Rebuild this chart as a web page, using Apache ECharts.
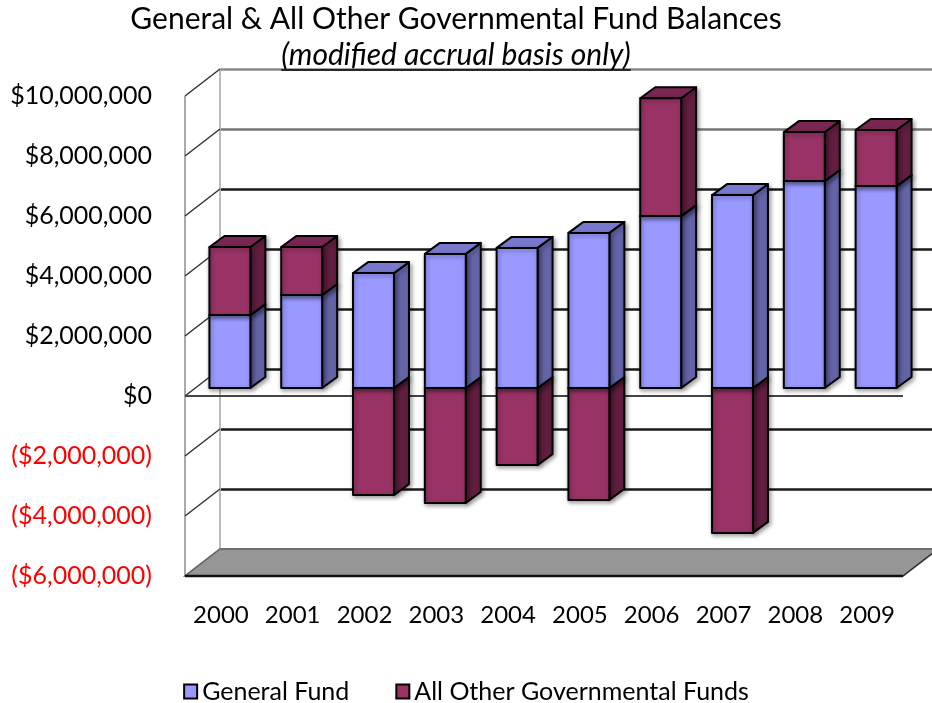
<!DOCTYPE html>
<html><head><meta charset="utf-8">
<script src="https://cdn.jsdelivr.net/npm/echarts/dist/echarts.min.js"></script>
<style>html,body{margin:0;padding:0;background:#fff}#c{width:932px;height:703px}</style>
</head><body><div id="c"></div>
<script>
const years = ['2000','2001','2002','2003','2004','2005','2006','2007','2008','2009'];
const generalFund = [2430000, 3100000, 3830000, 4470000, 4670000, 5170000, 5730000, 6430000, 6900000, 6730000];
const otherFunds  = [2270000, 1600000, -3570000, -3830000, -2570000, -3730000, 3930000, -4830000, 1630000, 1870000];
const yMin = -6000000, yMax = 10000000, yStep = 2000000;
const titleText = 'General & All Other Governmental Fund Balances';
const subtitleText = '(modified accrual basis only)';

const FONT = 'Lato, "Liberation Sans", sans-serif';
const FRONT = {left:185, top:96, width:718, height:480};
const DEPTH = {dx:35, dy:27};
const BACK = {left:FRONT.left+DEPTH.dx, top:FRONT.top-DEPTH.dy, width:718, height:480};
const BARS = {left:FRONT.left+9, top:FRONT.top-8, width:718, height:480};
const TITLE_CX = 456;

const BLUE = {front:'#9999FF', side:'#6464A8', top:'#7878CC'};
const RED  = {front:'#993366', side:'#621E40', top:'#7A2652'};

const blueRows = years.map((y,i)=>[i, 0, generalFund[i]]);
const redNegRows = [], redPosRows = [];
years.forEach((y,i)=>{
  if (otherFunds[i] < 0) redNegRows.push([i, 0, otherFunds[i]]);
  else redPosRows.push([i, generalFund[i], generalFund[i]+otherFunds[i]]);
});

function fmtMoney(v){
  const s = Math.abs(v).toString().replace(/\B(?=(\d{3})+(?!\d))/g, ',');
  return v < 0 ? '($' + s + ')' : '$' + s;
}

function makeRender(c){
  return function(params, api){
    const i = api.value(0), b = api.value(1), t = api.value(2);
    const p0 = api.coord([i, b]), p1 = api.coord([i, t]);
    const bw = api.size([1, 0])[0] * 0.57;
    const xl = p0[0] - bw/2, xr = p0[0] + bw/2;
    const yTop = Math.min(p0[1], p1[1]), yBot = Math.max(p0[1], p1[1]);
    const dx = 15, dy = 11;
    const ls = {stroke:'#000', lineWidth:2, lineJoin:'round'};
    return {type:'group', children:[
      {type:'polygon', shape:{points:[[xr,yBot],[xr,yTop],[xr+dx,yTop-dy],[xr+dx,yBot-dy]]},
        style:Object.assign({fill:c.side, shadowBlur:4, shadowColor:'rgba(0,0,0,0.35)', shadowOffsetX:2, shadowOffsetY:2}, ls)},
      {type:'polygon', shape:{points:[[xl,yTop],[xr,yTop],[xr+dx,yTop-dy],[xl+dx,yTop-dy]]},
        style:Object.assign({fill:c.top}, ls)},
      {type:'rect', shape:{x:xl, y:yTop, width:bw, height:yBot-yTop},
        style:Object.assign({fill:c.front, shadowBlur:4, shadowColor:'rgba(0,0,0,0.35)', shadowOffsetX:1, shadowOffsetY:2}, ls)}
    ]};
  };
}

const cv = document.createElement('canvas').getContext('2d');
cv.font = '30px ' + FONT;
const titleW = cv.measureText(titleText).width;
cv.font = 'italic 30px ' + FONT;
const subW = cv.measureText(subtitleText).width;

const chart = echarts.init(document.getElementById('c'), null, {renderer:'canvas'});
const valAxisBase = {type:'value', min:yMin, max:yMax, interval:yStep};

chart.setOption({
  animation:false,
  backgroundColor:'#fff',
  title:[
    {text:titleText, left:TITLE_CX - titleW/2, top:4, padding:0,
     textStyle:{fontFamily:FONT, fontSize:30, fontWeight:'normal', color:'#000'}},
    {text:subtitleText, left:TITLE_CX - subW/2, top:40, padding:0,
     textStyle:{fontFamily:FONT, fontSize:30, fontWeight:'normal', fontStyle:'italic', color:'#000'}}
  ],
  legend:{
    top:674, left:'center', itemWidth:13, itemHeight:14, itemGap:46, icon:'rect',
    textStyle:{fontFamily:FONT, fontSize:25, color:'#000'},
    itemStyle:{borderColor:'#000', borderWidth:2},
    data:['General Fund','All Other Governmental Funds']
  },
  grid:[
    Object.assign({containLabel:false}, BACK),
    Object.assign({containLabel:false}, FRONT),
    Object.assign({containLabel:false}, BARS)
  ],
  xAxis:[
    {type:'category', gridIndex:0, data:years, show:false},
    {type:'category', gridIndex:1, data:years, position:'bottom',
     axisLine:{show:false, onZero:false}, axisTick:{show:false}, splitLine:{show:false},
     axisLabel:{interval:0, margin:27, fontFamily:FONT, fontSize:24, color:'#000'}},
    {type:'category', gridIndex:2, data:years, show:false}
  ],
  yAxis:[
    Object.assign({gridIndex:0, axisLabel:{show:false}, axisTick:{show:false},
      axisLine:{show:true, lineStyle:{color:'#bbb', width:2}},
      splitLine:{show:true, lineStyle:{width:2.5,
        color:['#666','#1a1a1a','#1a1a1a','#1a1a1a','#1a1a1a','#1a1a1a','#1a1a1a','#777','#888']}}}, valAxisBase),
    Object.assign({gridIndex:1, axisTick:{show:false}, axisLine:{show:false}, splitLine:{show:false},
      axisLabel:{margin:33, fontFamily:FONT, fontSize:25,
        color:function(v){ return Number(v) < 0 ? '#FF0000' : '#000'; },
        formatter:fmtMoney}}, valAxisBase),
    Object.assign({gridIndex:2, show:false, splitLine:{show:false}}, valAxisBase)
  ],
  series:[
    {type:'custom', name:'All Other Governmental Funds', xAxisIndex:2, yAxisIndex:2, z:3,
     itemStyle:{color:RED.front}, encode:{x:0, y:[1,2]}, data:redNegRows, renderItem:makeRender(RED)},
    {type:'custom', name:'General Fund', xAxisIndex:2, yAxisIndex:2, z:3,
     itemStyle:{color:BLUE.front}, encode:{x:0, y:[1,2]}, data:blueRows, renderItem:makeRender(BLUE)},
    {type:'custom', name:'All Other Governmental Funds', xAxisIndex:2, yAxisIndex:2, z:3,
     itemStyle:{color:RED.front}, encode:{x:0, y:[1,2]}, data:redPosRows, renderItem:makeRender(RED)}
  ]
});

// Decorations (walls, floor, zero line, subtitle underline) positioned via axis scales
const yF = v => chart.convertToPixel({yAxisIndex:1}, v);
const yB = v => chart.convertToPixel({yAxisIndex:0}, v);
const fl = FRONT.left, fr = FRONT.left + FRONT.width;
const bl = BACK.left, br = BACK.left + BACK.width;
const g = [];
g.push({type:'polygon', z:5, shape:{points:[[fl,yF(yMin)],[fr,yF(yMin)],[br,yB(yMin)],[bl,yB(yMin)]]},
  style:{fill:'#969696', stroke:'#666', lineWidth:1.5}});
g.push({type:'line', z:6, shape:{x1:fl, y1:yF(yMin), x2:fr, y2:yF(yMin)}, style:{stroke:'#111', lineWidth:2.5}});
g.push({type:'line', z:6, shape:{x1:fr, y1:yF(yMin), x2:br, y2:yB(yMin)}, style:{stroke:'#333', lineWidth:1.5}});
g.push({type:'line', z:1, shape:{x1:fl, y1:yF(yMax), x2:fl, y2:yF(yMin)}, style:{stroke:'#aaa', lineWidth:2}});
for (let v = yMin; v <= yMax; v += yStep){
  g.push({type:'line', z:1, shape:{x1:fl, y1:yF(v), x2:bl, y2:yB(v)}, style:{stroke:'#333', lineWidth:1.5}});
}
g.push({type:'line', z:1, shape:{x1:fl, y1:yF(0), x2:fr, y2:yF(0)}, style:{stroke:'#444', lineWidth:2}});
g.push({type:'line', z:10, shape:{x1:TITLE_CX - subW/2, y1:70, x2:TITLE_CX + subW/2, y2:70}, style:{stroke:'#000', lineWidth:1.5}});
chart.setOption({graphic:g});
</script></body></html>
